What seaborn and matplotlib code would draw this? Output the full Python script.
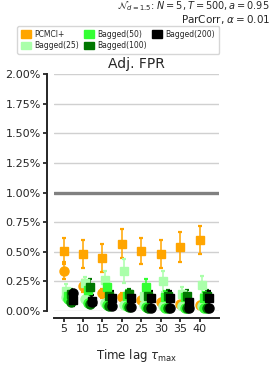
import numpy as np
import matplotlib
matplotlib.use("Agg")
import matplotlib.pyplot as plt
from matplotlib.patches import Patch
from matplotlib.ticker import FuncFormatter
import seaborn as sns

taus = [5, 10, 15, 20, 25, 30, 35, 40]
methods = ["PCMCI+", "Bagged(25)", "Bagged(50)", "Bagged(100)", "Bagged(200)"]
colors = ["orange", "#aaffaa", "#33ff33", "#007700", "black"]

# adjacency FPR in percent: squares (with error bars) and circles
fpr_sq = {
    "PCMCI+":      [0.51, 0.48, 0.45, 0.57, 0.51, 0.48, 0.54, 0.60],
    "Bagged(25)":  [0.17, 0.24, 0.26, 0.34, 0.13, 0.25, 0.14, 0.22],
    "Bagged(50)":  [0.13, 0.18, 0.20, 0.13, 0.20, 0.12, 0.12, 0.11],
    "Bagged(100)": [0.14, 0.20, 0.13, 0.14, 0.13, 0.13, 0.13, 0.13],
    "Bagged(200)": [0.09, 0.085, 0.11, 0.11, 0.11, 0.11, 0.08, 0.11],
}
fpr_sq_err = {
    "PCMCI+":      [0.11, 0.12, 0.12, 0.12, 0.11, 0.12, 0.13, 0.12],
    "Bagged(25)":  [0.06, 0.05, 0.08, 0.10, 0.05, 0.09, 0.06, 0.08],
    "Bagged(50)":  [0.05, 0.06, 0.07, 0.05, 0.07, 0.05, 0.05, 0.05],
    "Bagged(100)": [0.05, 0.07, 0.05, 0.05, 0.05, 0.05, 0.05, 0.05],
    "Bagged(200)": [0.05, 0.05, 0.06, 0.06, 0.06, 0.06, 0.05, 0.06],
}
fpr_ci = {
    "PCMCI+":      [0.34, 0.21, 0.15, 0.12, 0.09, 0.075, 0.06, 0.055],
    "Bagged(25)":  [0.12, 0.10, 0.07, 0.05, 0.05, 0.04, 0.04, 0.04],
    "Bagged(50)":  [0.10, 0.07, 0.05, 0.04, 0.035, 0.03, 0.03, 0.03],
    "Bagged(100)": [0.08, 0.06, 0.04, 0.035, 0.03, 0.03, 0.03, 0.025],
    "Bagged(200)": [0.15, 0.08, 0.04, 0.035, 0.03, 0.03, 0.03, 0.025],
}
fpr_ci_err = {
    "PCMCI+":      [0.07, 0.05, 0.04, 0.03, 0.03, 0.02, 0.02, 0.02],
    "Bagged(25)":  [0.03, 0.03, 0.02, 0.02, 0.02, 0.02, 0.02, 0.02],
    "Bagged(50)":  [0.03, 0.02, 0.02, 0.02, 0.02, 0.02, 0.02, 0.02],
    "Bagged(100)": [0.03, 0.02, 0.02, 0.02, 0.02, 0.02, 0.02, 0.02],
    "Bagged(200)": [0.03, 0.03, 0.02, 0.02, 0.02, 0.02, 0.02, 0.02],
}
offsets = [0.0, 0.6, 1.2, 1.8, 2.4]
alpha_level = 1.0

sns.set_style("ticks")
fig = plt.figure(figsize=(2.74, 3.66), dpi=100)
ax = fig.add_axes([0.197, 0.150, 0.602, 0.648])

ax.axhline(alpha_level, color="grey", lw=2.4, zorder=1)

for m, c, off in zip(methods, colors, offsets):
    x = np.array(taus) + off
    ax.errorbar(x, fpr_sq[m], yerr=fpr_sq_err[m], fmt="s", color=c, ms=6,
                elinewidth=1.1, capsize=1.3, capthick=1.6, zorder=3, clip_on=False)
    ax.errorbar(x, fpr_ci[m], yerr=fpr_ci_err[m], fmt="o", color=c, ms=6.5,
                elinewidth=1.1, capsize=1.3, capthick=1.6, zorder=3, clip_on=False)

ax.set_xlim(2.5, 45)
ax.set_ylim(0, 2.0)
ax.set_xticks(taus)
ax.set_yticks(np.arange(0, 2.01, 0.25))
ax.yaxis.set_major_formatter(FuncFormatter(lambda v, p: f"{v:.2f}%"))
ax.tick_params(labelsize=8, width=1.3, length=3, pad=1.5)
ax.grid(axis="y", color="#d0d0d0", lw=1)
for s in ["left", "bottom"]:
    ax.spines[s].set_linewidth(1.4)
sns.despine(ax=ax, offset=5)

ax.set_title("Adj. FPR", fontsize=10, pad=4)
ax.set_xlabel(r"Time lag $\tau_{\max}$", fontsize=8.5, labelpad=9)

fig.text(0.985, 0.982, r"$\mathcal{N}_{d=1.5}$: $N=5, T=500, a=0.95$",
         ha="right", va="center", fontsize=7)
fig.text(0.985, 0.948, r"ParCorr, $\alpha=0.01$", ha="right", va="center", fontsize=7.5)

handles = [Patch(color=c, label=m) for m, c in zip(methods, colors)]
fig.legend(handles=handles, loc="upper left", bbox_to_anchor=(0.062, 0.929),
           borderaxespad=0, ncol=3, fontsize=5.5, handlelength=1.3, handleheight=1.2,
           columnspacing=0.6, handletextpad=0.5, labelspacing=0.3,
           borderpad=0.5, frameon=True, fancybox=True, edgecolor="#cccccc")

fig.savefig("out.png", dpi=100)
